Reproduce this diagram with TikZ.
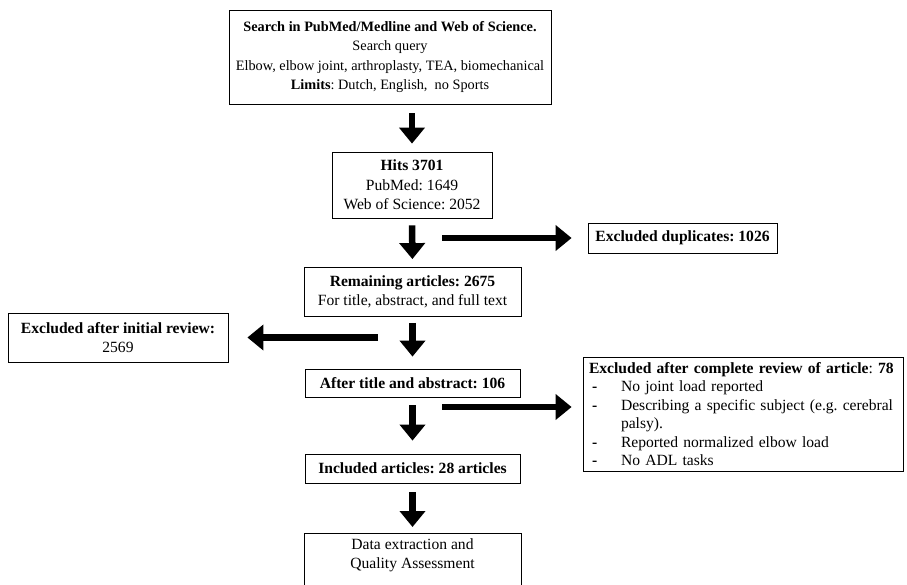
\documentclass[tikz,border=0pt]{standalone}
\usepackage{fontspec}
\setmainfont{Liberation Serif}
\usetikzlibrary{arrows.meta}
\begin{document}
\frenchspacing
\begin{tikzpicture}[x=1pt,y=-1pt,
  box/.style={draw, line width=0.8pt, align=center, inner sep=0pt,
    font=\fontsize{15.6}{19.5}\selectfont\frenchspacing},
  bigarrow/.style={line width=6.5pt, -{Triangle[width=25pt,length=16pt]}}]
\useasboundingbox (0,0) rectangle (907,584);

\node[box, minimum width=322pt, minimum height=94pt, font=\fontsize{14.3}{19.3}\selectfont\frenchspacing] (search) at (390,57)
  {\textbf{Search in PubMed/Medline and Web of Science.}\\Search query\\Elbow, elbow joint, arthroplasty, TEA, biomechanical\\\textbf{Limits}: Dutch, English,\ \ no Sports};
\node[box, minimum width=160pt, minimum height=66pt] (hits) at (412,185)
  {\textbf{Hits 3701}\\PubMed: 1649\\Web of Science: 2052};
\node[box, minimum width=189pt, minimum height=30pt] (dup) at (682.5,238)
  {\textbf{Excluded duplicates: 1026}};
\node[box, minimum width=217pt, minimum height=49pt] (rem) at (412.5,292)
  {\textbf{Remaining articles: 2675}\\For title, abstract, and full text};
\node[box, minimum width=220pt, minimum height=49pt] (init) at (118,337.5)
  {\textbf{Excluded after initial review:}\\2569};
\node[box, minimum width=215pt, minimum height=28pt] (after) at (412.5,383)
  {\textbf{After title and abstract: 106}};
\node[box, align=left, text width=308pt, inner xsep=6pt, minimum height=114pt,
  font=\fontsize{15.6}{18.5}\selectfont\frenchspacing] (complete) at (743,414)
  {\textbf{Excluded after complete review of article}: \textbf{78}\\
   \hspace*{3pt}\makebox[29pt][l]{\textbf{-}}No joint load reported\\
   \hspace*{3pt}\makebox[29pt][l]{\textbf{-}}Describing a specific subject (e.g. cerebral\\
   \hspace*{32pt}palsy).\\
   \hspace*{3pt}\makebox[29pt][l]{\textbf{-}}Reported normalized elbow load\\
   \hspace*{3pt}\makebox[29pt][l]{\textbf{-}}No ADL tasks};
\node[box, minimum width=215pt, minimum height=29pt] (incl) at (412.5,468.5)
  {\textbf{Included articles: 28 articles}};
\node[box, minimum width=217pt, anchor=north, inner ysep=5pt, text depth=40pt] (data) at (412.5,533)
  {Data extraction and\\Quality Assessment};

\coordinate (d1) at (442,238);
\coordinate (l1) at (378,337.5);
\coordinate (r1) at (442,407);

\draw[bigarrow, shorten <=9pt, shorten >=8pt] (search.south -| hits.north) -- (hits.north);
\draw[bigarrow, shorten <=7pt, shorten >=8pt] (hits.south) -- (rem.north);
\draw[bigarrow, shorten >=16pt] (d1) -- (dup.west);
\draw[bigarrow, shorten <=6pt, shorten >=12pt] (rem.south) -- (after.north);
\draw[bigarrow, shorten >=19pt] (l1) -- (init.east);
\draw[bigarrow, shorten <=8pt, shorten >=13pt] (after.south) -- (incl.north);
\draw[bigarrow, shorten >=11pt] (r1) -- (r1 -| complete.west);
\draw[bigarrow, shorten <=9pt, shorten >=6pt] (incl.south) -- (data.north);
\end{tikzpicture}
\end{document}
